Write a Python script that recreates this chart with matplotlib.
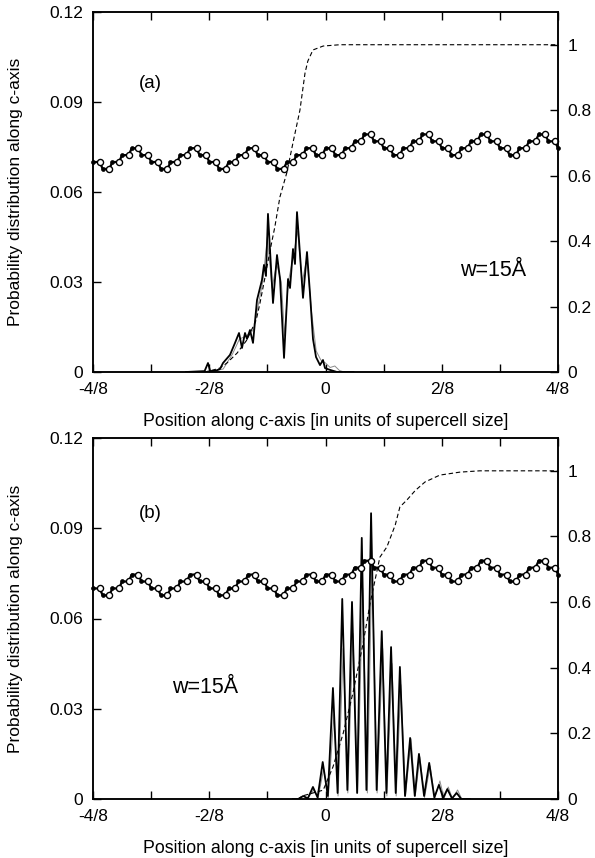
import numpy as np
import matplotlib.pyplot as plt
from matplotlib.ticker import FixedLocator, FixedFormatter

plt.rcParams['font.family'] = ['Liberation Sans', 'DejaVu Sans']

# ---- atom chain (same in both panels) ----
# height step of each atom pair, one pair every 1/48 of the supercell
chain_steps = [1, 0, 1, 2, 3, 2, 1, 0, 1, 2, 3, 2, 1, 0, 1, 2, 3, 2, 1, 0, 1, 2, 3, 2,
               3, 2, 3, 4, 5, 4, 3, 2, 3, 4, 5, 4, 3, 2, 3, 4, 5, 4, 3, 2, 3, 4, 5, 4, 3]
chain_base = 0.0677
chain_step = 0.0023

# ---- panel (a) ----
a_x = [-0.30, -0.26, -0.2527, -0.248, -0.235, -0.2269, -0.2204, -0.2054, -0.1946, -0.186,
       -0.1796, -0.1731, -0.1688, -0.1624, -0.1559, -0.1473, -0.1366, -0.1323, -0.128, -0.1237,
       -0.1129, -0.1043, -0.0978, -0.0892, -0.0806, -0.0763, -0.0699, -0.0656, -0.0613, -0.057,
       -0.0484, -0.0398, -0.0333, -0.0269, -0.0204, -0.0118, -0.0054, -0.0011, 0.0097, 0.0247, 0.06]
a_y = [0, 0.0003, 0.003, 0.0003, 0.0005, 0.001, 0.003, 0.0057, 0.0097, 0.013,
       0.008, 0.013, 0.011, 0.014, 0.0097, 0.024, 0.0307, 0.0357, 0.032, 0.0527,
       0.023, 0.039, 0.031, 0.0047, 0.031, 0.028, 0.041, 0.036, 0.0533, 0.044,
       0.0247, 0.040, 0.026, 0.011, 0.005, 0.0023, 0.004, 0.0013, 0.0007, 0, 0]
a_gray_x = [-0.27, -0.25, -0.22, -0.2, -0.185, -0.17, -0.155, -0.145, -0.135, -0.125, -0.115,
            -0.105, -0.095, -0.088, -0.08, -0.07, -0.06, -0.05, -0.04, -0.03, -0.02, -0.01,
            0.0, 0.01, 0.02, 0.03, 0.04]
a_gray_y = [0, 0, 0.001, 0.006, 0.011, 0.012, 0.014, 0.022, 0.03, 0.045, 0.028,
            0.036, 0.03, 0.012, 0.03, 0.038, 0.047, 0.03, 0.038, 0.02, 0.007, 0.004,
            0.003, 0.0015, 0.002, 0.0005, 0]
a_cum_x = [-0.26, -0.242, -0.227, -0.212, -0.190, -0.169, -0.149, -0.141, -0.130, -0.119,
           -0.109, -0.098, -0.083, -0.070, -0.055, -0.044, -0.038, -0.027, -0.005, 0.031, 0.5]
a_cum_y = [0, 0.006, 0.012, 0.0275, 0.058, 0.098, 0.159, 0.21, 0.29, 0.373,
           0.443, 0.535, 0.61, 0.70, 0.80, 0.914, 0.95, 0.984, 0.996, 1.0, 1.0]

# ---- panel (b) ----
b_x = [-0.07, -0.058, -0.048, -0.038, -0.027, -0.017, -0.006, 0.005, 0.016, 0.026, 0.036,
       0.047, 0.057, 0.068, 0.078, 0.088, 0.098, 0.110, 0.121, 0.131, 0.141, 0.151, 0.160,
       0.171, 0.182, 0.192, 0.201, 0.212, 0.223, 0.234, 0.244, 0.253, 0.262, 0.272, 0.282,
       0.292, 0.31]
b_y = [0, 0, 0.001, 0.0002, 0.004, 0.0005, 0.0123, 0.001, 0.0369, 0.002, 0.0665,
       0.003, 0.0655, 0.002, 0.0868, 0.003, 0.095, 0.003, 0.0558, 0.002, 0.0505, 0.002, 0.0439,
       0.001, 0.0203, 0.001, 0.015, 0.001, 0.012, 0.0005, 0.0047, 0.0003, 0.0033, 0.0002, 0.002,
       0, 0]
b_gray_x = [-0.04, -0.025, -0.016, -0.004, 0.006, 0.018, 0.027, 0.038, 0.048, 0.059, 0.069,
            0.080, 0.090, 0.100, 0.111, 0.123, 0.132, 0.143, 0.152, 0.162, 0.172, 0.184, 0.193,
            0.203, 0.213, 0.225, 0.235, 0.246, 0.255, 0.264, 0.273, 0.284, 0.293, 0.31]
b_gray_y = [0, 0.003, 0.0003, 0.010, 0.0005, 0.028, 0.001, 0.05, 0.002, 0.055, 0.002,
            0.07, 0.002, 0.08, 0.002, 0.05, 0.001, 0.045, 0.001, 0.038, 0.001, 0.02, 0.001,
            0.014, 0.0005, 0.011, 0.0003, 0.006, 0.0002, 0.004, 0.0001, 0.003, 0, 0]
b_cum_x = [-0.06, -0.048, -0.005, 0.016, 0.038, 0.059, 0.081, 0.096, 0.102, 0.117, 0.132,
           0.150, 0.160, 0.175, 0.193, 0.214, 0.246, 0.289, 0.332, 0.5]
b_cum_y = [0, 0.01, 0.027, 0.0975, 0.20, 0.323, 0.475, 0.597, 0.637, 0.737, 0.768,
           0.835, 0.89, 0.911, 0.94, 0.966, 0.987, 0.996, 1.0, 1.0]

xtick_pos = [-0.5, -0.25, 0, 0.25, 0.5]
xtick_lab = ['-4/8', '-2/8', '0', '2/8', '4/8']
xminor_pos = [-0.375, -0.125, 0.125, 0.375]
ytick_pos = [0, 0.03, 0.06, 0.09, 0.12]
ytick_lab = ['0', '0.03', '0.06', '0.09', '0.12']
rtick_pos = [0, 0.2, 0.4, 0.6, 0.8, 1.0]
rtick_lab = ['0', '0.2', '0.4', '0.6', '0.8', '1']


def chain_atoms():
    xs, ys, filled = [], [], []
    for k, s in enumerate(chain_steps):
        y = chain_base + s * chain_step
        x0 = -0.5 + k / 48
        for off, f in ((0.0, True), (0.0143, False)):
            if x0 + off <= 0.5 + 1e-9:
                xs.append(x0 + off)
                ys.append(y)
                filled.append(f)
    return np.array(xs), np.array(ys), np.array(filled)


def panel(ax, sx, sy, gx, gy, cx, cy, tag, tag_pos, wtxt_pos):
    ax.plot(gx, gy, color='0.55', lw=0.7, zorder=2)
    ax.plot(sx, sy, color='black', lw=1.3, zorder=3)

    xs, ys, filled = chain_atoms()
    ax.plot(xs, ys, color='black', lw=1.6, zorder=4, clip_on=False)
    ax.plot(xs[~filled], ys[~filled], 'o', ms=4.4, mfc='white', mec='black', mew=1.0,
            zorder=5, clip_on=False)
    ax.plot(xs[filled], ys[filled], 'o', ms=2.8, mfc='black', mec='black', mew=0.5,
            zorder=6, clip_on=False)

    ax.set_xlim(-0.5, 0.5)
    ax.set_ylim(0, 0.12)
    ax.xaxis.set_major_locator(FixedLocator(xtick_pos))
    ax.xaxis.set_major_formatter(FixedFormatter(xtick_lab))
    ax.xaxis.set_minor_locator(FixedLocator(xminor_pos))
    ax.yaxis.set_major_locator(FixedLocator(ytick_pos))
    ax.yaxis.set_major_formatter(FixedFormatter(ytick_lab))
    ax.tick_params(which='both', direction='in', top=True, right=False, length=6,
                   width=1.0, labelsize=12.5, pad=7)
    for sp in ax.spines.values():
        sp.set_linewidth(1.1)
    ax.set_xlabel('Position along c-axis [in units of supercell size]', fontsize=12.8,
                  labelpad=12)
    ax.set_ylabel('Probability distribution along c-axis', fontsize=12.5)
    ax.yaxis.set_label_coords(-0.15, 0.5)

    ax.text(tag_pos[0], tag_pos[1], tag, transform=ax.transAxes, fontsize=13.5,
            ha='center', va='center')
    ax.text(wtxt_pos[0], wtxt_pos[1], 'w=15Å', fontsize=15.5, ha='center', va='center')

    ax2 = ax.twinx()
    ax2.plot(cx, cy, color='black', lw=0.8, ls=(0, (4, 2.5)), zorder=3)
    ax2.set_ylim(0, 1.1)
    ax2.yaxis.set_major_locator(FixedLocator(rtick_pos))
    ax2.yaxis.set_major_formatter(FixedFormatter(rtick_lab))
    ax2.tick_params(direction='in', length=6, width=1.0, labelsize=12.5, pad=7)
    for sp in ax2.spines.values():
        sp.set_linewidth(1.1)
    return ax2


fig = plt.figure(figsize=(5.95, 8.58), dpi=100)
ax_a = fig.add_axes([93 / 595, 1 - 372 / 858, 465 / 595, 360 / 858])
ax_b = fig.add_axes([93 / 595, 1 - 799 / 858, 465 / 595, 361 / 858])

panel(ax_a, a_x, a_y, a_gray_x, a_gray_y, a_cum_x, a_cum_y, '(a)', (0.123, 0.80), (0.36, 0.034))
panel(ax_b, b_x, b_y, b_gray_x, b_gray_y, b_cum_x, b_cum_y, '(b)', (0.123, 0.79), (-0.26, 0.037))

fig.savefig('out.png', dpi=100)
